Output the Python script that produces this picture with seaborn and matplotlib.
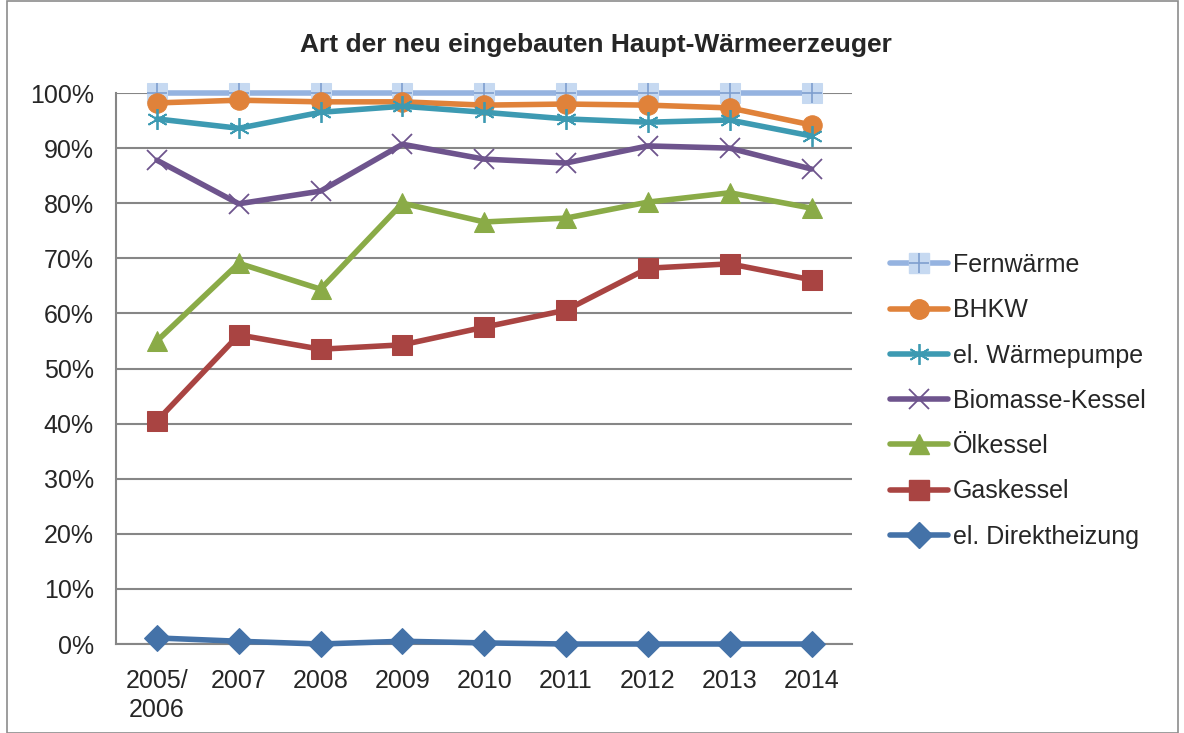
import numpy as np
import pandas as pd
import matplotlib
matplotlib.use("Agg")
import matplotlib.pyplot as plt
import seaborn as sns
from matplotlib.lines import Line2D
from matplotlib.patches import Rectangle
from matplotlib.ticker import PercentFormatter, FixedLocator
from matplotlib.legend_handler import HandlerTuple

# data (share in %)
years = ["2005/\n2006", "2007", "2008", "2009", "2010", "2011", "2012", "2013", "2014"]
fernwaerme = [100, 100, 100, 100, 100, 100, 100, 100, 100]
bhkw = [98.2, 98.7, 98.4, 98.4, 97.8, 98.0, 97.8, 97.3, 94.2]
waermepumpe = [95.3, 93.6, 96.5, 97.6, 96.5, 95.3, 94.7, 95.1, 92.2]
biomasse = [87.8, 79.9, 82.2, 90.7, 88.0, 87.3, 90.4, 90.0, 86.2]
oelkessel = [55.0, 69.1, 64.4, 80.0, 76.6, 77.3, 80.2, 81.9, 79.1]
gaskessel = [40.5, 56.1, 53.5, 54.3, 57.5, 60.6, 68.2, 69.0, 66.1]
direkt = [1.1, 0.5, 0.0, 0.5, 0.2, 0.0, 0.0, 0.0, 0.0]

names = ["Fernwärme", "BHKW", "el. Wärmepumpe", "Biomasse-Kessel",
         "Ölkessel", "Gaskessel", "el. Direktheizung"]
colors = ["#95B3E0", "#E0823A", "#3D9AB2", "#6E548D", "#8AAB47", "#A94442", "#4472A8"]
markers = ["s", "o", "*", "x", "^", "s", "D"]

sns.set_style("white")
plt.rcParams["font.family"] = ["Liberation Sans", "DejaVu Sans"]

fig = plt.figure(figsize=(11.84, 7.33), dpi=100)
ax = fig.add_axes([0.098, 0.1214, 0.622, 0.7517])

pos = np.arange(len(years))
series = [fernwaerme, bhkw, waermepumpe, biomasse, oelkessel, gaskessel, direkt]

ax.yaxis.grid(True, color="#868686", linewidth=1.5)
ax.set_axisbelow(True)

LW = 4
handles = []
for i, (name, vals) in enumerate(zip(names, series)):
    df = pd.DataFrame({"x": pos, "y": np.array(vals) / 100})
    mk = markers[i]
    if name == "Fernwärme":
        sns.lineplot(data=df, x="x", y="y", ax=ax, color=colors[i], linewidth=LW,
                     marker="s", markersize=15, markerfacecolor="#C6D9F1",
                     markeredgecolor="#C6D9F1", zorder=3 + i)
        ax.plot(pos, df["y"], linestyle="none", marker="+", markersize=15,
                markeredgecolor="#7F9FCF", markeredgewidth=1.2, zorder=3 + i)
        h = (Line2D([], [], color=colors[i], linewidth=LW, marker="s", markersize=15,
                    markerfacecolor="#C6D9F1", markeredgecolor="#C6D9F1"),
             Line2D([], [], linestyle="none", marker="+", markersize=15,
                    markeredgecolor="#7F9FCF", markeredgewidth=1.2))
    elif mk in ("*", "x"):
        m = (6, 2, 0) if mk == "*" else "x"
        ms = 15
        sns.lineplot(data=df, x="x", y="y", ax=ax, color=colors[i], linewidth=LW,
                     zorder=3 + i)
        ax.plot(pos, df["y"], linestyle="none", marker=m, markersize=ms,
                markeredgecolor=colors[i], markeredgewidth=1.3, zorder=3 + i)
        h = Line2D([], [], color=colors[i], linewidth=LW, marker=m, markersize=ms,
                   markeredgecolor=colors[i], markeredgewidth=1.3)
    else:
        ms = {"o": 14, "^": 15, "s": 14, "D": 13}[mk]
        sns.lineplot(data=df, x="x", y="y", ax=ax, color=colors[i], linewidth=LW,
                     marker=mk, markersize=ms, markerfacecolor=colors[i],
                     markeredgecolor=colors[i], zorder=3 + i)
        h = Line2D([], [], color=colors[i], linewidth=LW, marker=mk, markersize=ms,
                   markerfacecolor=colors[i], markeredgecolor=colors[i])
    handles.append(h)

# markers at 0% and 100% must not be cut by the axes box
for ln in ax.lines:
    ln.set_clip_on(False)

ax.set_xlim(-0.5, len(years) - 0.5)
ax.set_ylim(0, 1.0)
ax.yaxis.set_major_locator(FixedLocator(np.arange(0, 1.01, 0.1)))
ax.yaxis.set_major_formatter(PercentFormatter(1.0, decimals=0))
ax.set_xticks(pos)
ax.set_xticklabels(years, linespacing=1.25)
ax.set_xticks(np.arange(-0.5, len(years), 1.0), minor=True)
ax.tick_params(axis="x", which="major", length=0, labelsize=18, pad=18)
ax.tick_params(axis="x", which="minor", length=6, color="#868686", width=1.2,
               direction="out")
ax.tick_params(axis="y", length=6, color="#868686", width=1.2, labelsize=18,
               direction="out", pad=10)
ax.set_xlabel("")
ax.set_ylabel("")

for side in ["top", "right"]:
    ax.spines[side].set_visible(False)
for side in ["left", "bottom"]:
    ax.spines[side].set_color("#868686")
    ax.spines[side].set_linewidth(1.5)

fig.text(0.503, 0.939, "Art der neu eingebauten Haupt-Wärmeerzeuger",
         ha="center", va="center", fontsize=19, fontweight="bold")

leg = fig.legend(handles, names, loc="center left", bbox_to_anchor=(0.752, 0.453),
                 frameon=False, fontsize=18, handlelength=2.3, handletextpad=0.2,
                 labelspacing=0.85, borderpad=0, borderaxespad=0,
                 handler_map={tuple: HandlerTuple(ndivide=1)})

fig.patches.append(Rectangle((0.006, 0.0), 0.989, 0.999, transform=fig.transFigure,
                             fill=False, edgecolor="#8C8C8C", linewidth=1.2))

fig.savefig("out.png", dpi=100)
